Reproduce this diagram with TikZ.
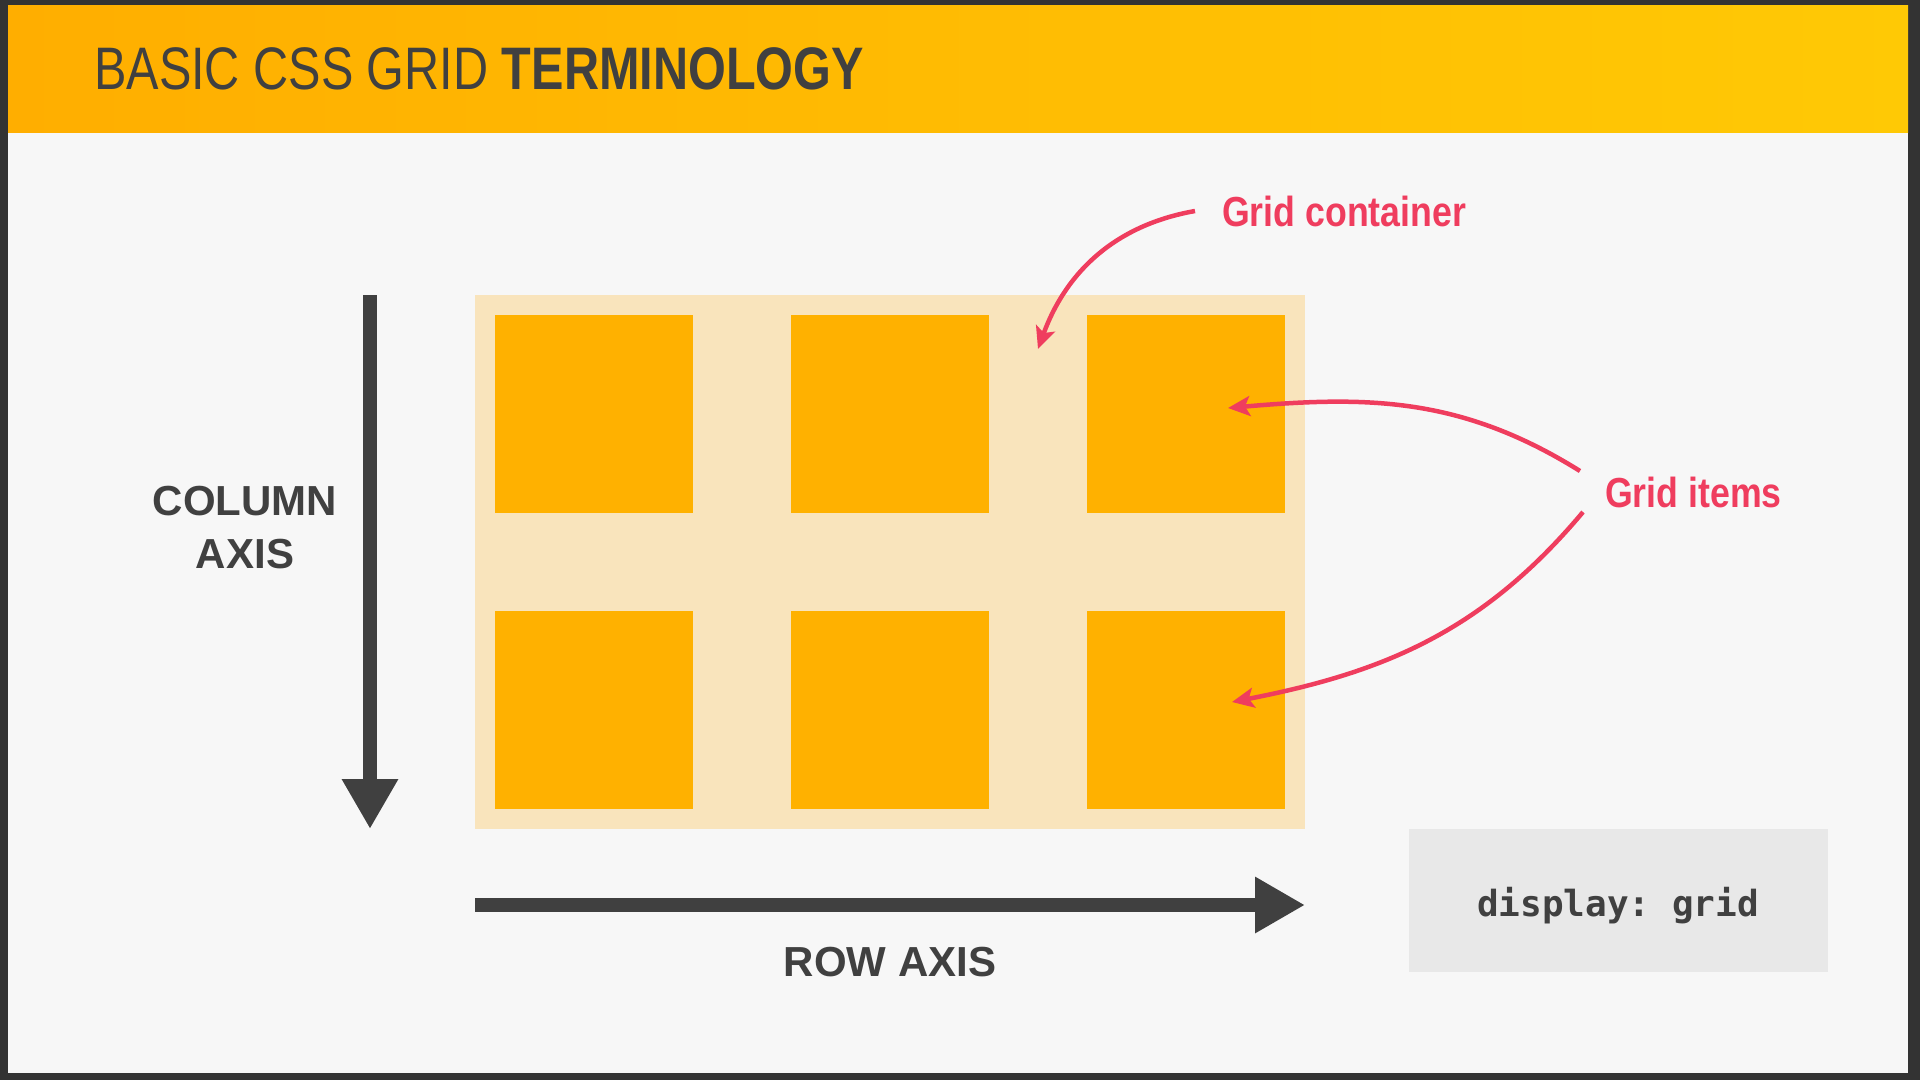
\documentclass[tikz,border=0pt]{standalone}
\usepackage{fontspec}
\setmainfont{Liberation Sans}
\setmonofont{DejaVu Sans Mono}
\newfontfamily\titlefont[FakeStretch=0.81]{Liberation Sans}
\newfontfamily\notefont[FakeStretch=0.85]{Liberation Sans}
\usetikzlibrary{arrows.meta,calc,positioning}
\definecolor{frameGray}{RGB}{51,51,51}
\definecolor{pageGray}{RGB}{247,247,247}
\definecolor{headLeft}{RGB}{255,174,0}
\definecolor{headRight}{RGB}{255,201,5}
\definecolor{boxCream}{RGB}{249,228,188}
\definecolor{itemOrange}{RGB}{255,177,0}
\definecolor{axisGray}{RGB}{64,64,64}
\definecolor{noteRed}{RGB}{239,61,94}
\definecolor{codeGray}{RGB}{232,232,232}

\begin{document}
\begin{tikzpicture}[x=1pt,y=-1pt]
  \tikzset{item/.style={fill=itemOrange, minimum size=198pt, inner sep=0pt},
    axis/.style={draw=axisGray, line width=14pt, -{Triangle[width=53pt,length=50pt]}},
    note/.style={draw=noteRed, line width=4.5pt, -{Stealth[length=22pt,width=20pt,inset=5pt]}},
    axislabel/.style={text=axisGray, font=\bfseries\fontsize{42}{53}\selectfont, align=center},
    notelabel/.style={text=noteRed, font=\notefont\bfseries\fontsize{42}{50}\selectfont, inner sep=0pt}}
  \useasboundingbox (0,0) rectangle (1920,1080);
  \fill[frameGray] (0,0) rectangle (1920,1080);
  \fill[pageGray] (8,5) rectangle (1908,1073);
  \fill[left color=headLeft, right color=headRight] (8,5) rectangle (1908,132);
  \node[anchor=base west, inner sep=0pt, text=axisGray, font=\titlefont\fontsize{60}{72}\selectfont] (title) at (94,89) {BASIC CSS GRID \textbf{TERMINOLOGY}};

  % grid container and items
  \node[fill=boxCream, minimum width=830pt, minimum height=534pt, inner sep=0pt] (container) at (890,562) {};
  \node[item] (item11) at (594,414) {};
  \node[item] (item12) at (890,414) {};
  \node[item] (item13) at (1186,414) {};
  \node[item] (item21) at (594,710) {};
  \node[item] (item22) at (890,710) {};
  \node[item] (item23) at (1186,710) {};

  % axes
  \coordinate (colTop) at (370,295);
  \coordinate (colEnd) at (370,829);
  \coordinate (rowStart) at (475,905);
  \coordinate (rowEnd) at (1305,905);
  \draw[axis] (colTop) -- (colEnd);
  \draw[axis] (rowStart) -- (rowEnd);
  \node[axislabel] (colLabel) at (245,528) {COLUMN\\AXIS};
  \node[axislabel] (rowLabel) at (890,962) {ROW AXIS};

  % notes
  \node[notelabel, anchor=west] (contLabel) at (1222,211) {Grid container};
  \node[notelabel, anchor=west] (itemsLabel) at (1605,492) {Grid items};
  \coordinate (gapTip) at (1038,349);
  \draw[note] ($(contLabel.west)+(-27,0)$) to[out=190, in=70] (gapTip);
  \draw[note] ($(itemsLabel.west)+(-25,-21)$) to[out=148, in=5] ($(item13.center)+(42,-6)$);
  \draw[note] ($(itemsLabel.west)+(-22,20)$) to[out=230, in=11] ($(item23.center)+(46,-8)$);

  % code box
  \node[fill=codeGray, minimum width=419pt, minimum height=143pt, inner sep=0pt, text=axisGray, font=\ttfamily\bfseries\fontsize{36}{40}\selectfont] (code) at (1618,900) {\raisebox{-6pt}[\height][\depth]{display: grid}};
\end{tikzpicture}
\end{document}
